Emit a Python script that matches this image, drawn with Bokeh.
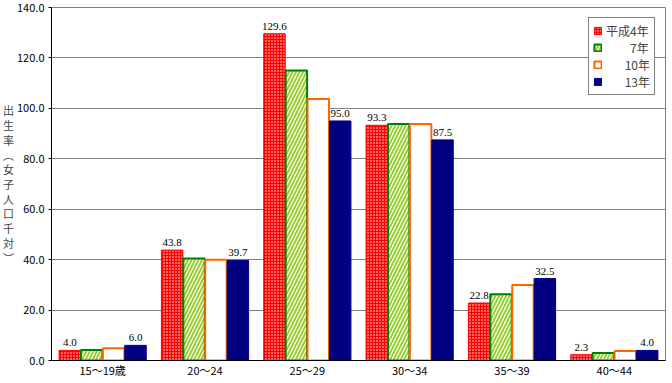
from bokeh.plotting import figure
from bokeh.models import (ColumnDataSource, FactorRange, Range1d, LabelSet, Legend, LegendItem,
                          NumeralTickFormatter, FixedTicker)
from bokeh.transform import dodge
from bokeh.embed import file_html
from bokeh.resources import INLINE

categories = ["15～19歳", "20～24", "25～29", "30～34", "35～39", "40～44"]
series_names = ["平成4年", "\u3000\u30007年", "\u3000\u200710年", "\u3000\u200713年"]
h4 = [4.0, 43.8, 129.6, 93.3, 22.8, 2.3]
h7 = [4.2, 40.5, 115.0, 93.8, 26.3, 3.0]
h10 = [4.9, 40.0, 103.7, 93.8, 29.9, 3.8]
h13 = [6.0, 39.7, 95.0, 87.5, 32.5, 4.0]
y_ticks = [0, 20, 40, 60, 80, 100, 120, 140]

FONT = "Noto Sans CJK JP"

src = ColumnDataSource(dict(
    cat=categories, h4=h4, h7=h7, h10=h10, h13=h13,
    l4=[f"{v:.1f}" for v in h4], l13=[f"{v:.1f}" for v in h13],
))

p = figure(x_range=FactorRange(*categories), y_range=Range1d(0, 140),
           width=666, height=380, output_backend="svg", toolbar_location=None,
           min_border_left=0, min_border_right=1, min_border_top=7, min_border_bottom=0)

w = 0.21
r4 = p.vbar(x=dodge("cat", -0.321, range=p.x_range), top="h4", width=w, source=src,
            fill_color="#ff0000", line_color="#ff0000", line_width=1,
            hatch_pattern=".", hatch_color="white", hatch_scale=3, hatch_weight=1.3)
r7 = p.vbar(x=dodge("cat", -0.107, range=p.x_range), top="h7", width=w, source=src,
            fill_color="white", line_color="#008000", line_width=2,
            hatch_pattern="/", hatch_color="#9acd32", hatch_scale=7, hatch_weight=2)
r10 = p.vbar(x=dodge("cat", 0.107, range=p.x_range), top="h10", width=w, source=src,
             fill_color="white", line_color="#ff6600", line_width=2)
r13 = p.vbar(x=dodge("cat", 0.321, range=p.x_range), top="h13", width=w, source=src,
             fill_color="#000080", line_color="#000080", line_width=1)

for col, lab, off in [("h4", "l4", -0.321), ("h13", "l13", 0.321)]:
    ls = LabelSet(x=dodge("cat", off, range=p.x_range), y=col, text=lab, source=src,
                  text_align="center", text_baseline="bottom", y_offset=4,
                  text_font=FONT, text_font_size="11px", text_color="black")
    p.add_layout(ls)

legend = Legend(items=[LegendItem(label=n, renderers=[r]) for n, r in
                       zip(series_names, [r4, r7, r10, r13])],
                location="top_right")
legend.label_text_font = FONT
legend.label_text_font_size = "12px"
legend.glyph_width = 9
legend.glyph_height = 9
legend.label_height = 12
legend.spacing = 0
legend.padding = 4
legend.margin = 10
legend.border_line_color = "black"
legend.border_line_width = 1
legend.background_fill_alpha = 1
legend.label_standoff = 4
p.add_layout(legend)

p.xaxis.axis_line_color = "black"
p.xaxis.major_tick_line_color = None
p.xaxis.major_tick_out = 0
p.xaxis.major_tick_in = 0
p.xaxis.major_label_standoff = 1
p.xaxis.major_label_text_font = FONT
p.xaxis.major_label_text_font_size = "11px"
p.xaxis.major_label_text_color = "black"

p.yaxis.ticker = FixedTicker(ticks=y_ticks)
p.yaxis.formatter = NumeralTickFormatter(format="0.0")
p.yaxis.axis_label = "出\n生\n率\n︵\n女\n子\n人\n口\n千\n対\n︶"
p.yaxis.axis_label_orientation = "horizontal"
p.yaxis.axis_label_text_font = FONT
p.yaxis.axis_label_text_font_size = "11px"
p.yaxis.axis_label_text_font_style = "normal"
p.yaxis.axis_label_text_line_height = 0.92
p.yaxis.axis_label_standoff = 0
p.yaxis.minor_tick_line_color = None
p.yaxis.major_tick_out = 3
p.yaxis.major_tick_in = 0
p.yaxis.major_label_standoff = 4
p.yaxis.axis_line_color = "black"
p.yaxis.major_tick_line_color = "black"
p.yaxis.major_label_text_font = FONT
p.yaxis.major_label_text_font_size = "11px"
p.yaxis.major_label_text_color = "black"

p.xgrid.grid_line_color = None
p.ygrid.grid_line_color = "#808080"
p.outline_line_color = "#808080"
p.x_range.range_padding = 0
p.x_range.group_padding = 0

open("out.html", "w").write(file_html(p, INLINE))
